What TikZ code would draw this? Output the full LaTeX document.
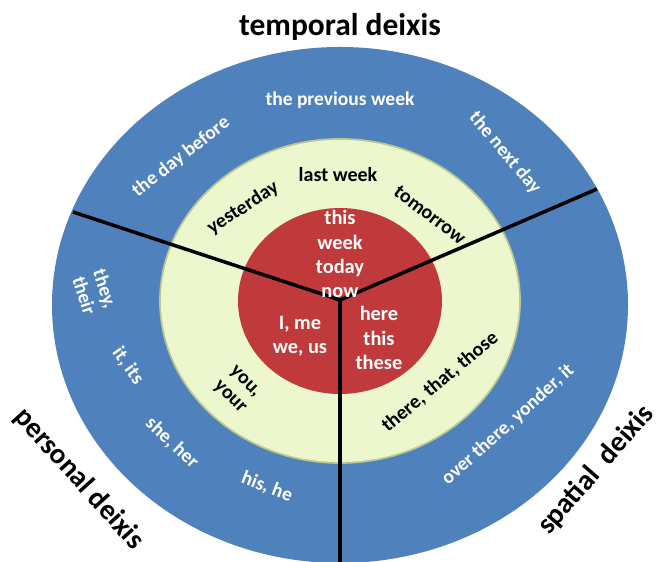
\documentclass[tikz,border=0pt]{standalone}
\usepackage{fontspec}
\setmainfont{Carlito}
\definecolor{ringblue}{HTML}{4F81BD}
\definecolor{ringgreen}{HTML}{EDF7CD}
\definecolor{ringedge}{HTML}{B9C98F}
\definecolor{corered}{HTML}{C0393B}
\tikzset{
  outerlbl/.style={text=white, font=\bfseries\fontsize{11.1}{12.5}\selectfont, align=center},
  midlbl/.style={text=black, font=\bfseries\fontsize{11.4}{12.5}\selectfont, align=center},
  corelbl/.style={text=white, font=\bfseries\fontsize{11.6}{13.7}\selectfont, align=center},
  titlelbl/.style={text=black, font=\bfseries\fontsize{17.9}{20}\selectfont},
  sidelbl/.style={text=black, font=\bfseries\fontsize{16.4}{18}\selectfont}
}
\begin{document}
\begin{tikzpicture}
        \useasboundingbox (-6.8,-5.18) rectangle (6.4,6.06);

        % Draw the three rings
        \fill[ringblue] (0,-0.04) ellipse (5.76 and 5.16);
        \filldraw[fill=ringgreen, draw=ringedge, line width=1pt] (0,0.04) ellipse (3.6 and 3.24);
        \fill[corered] (0,0.04) ellipse (2.04 and 1.86);

        % Draw the dividing lines
        \coordinate (O) at (0,0.06);
        \coordinate (P) at (-5.34,1.82); % personal / temporal
        \coordinate (S) at (5.14,2.28);  % temporal / spatial
        \coordinate (B) at (0,-5.18);    % spatial / personal
        \draw[line width=2pt] (O) -- (P);
        \draw[line width=2pt] (O) -- (S);
        \draw[line width=2pt] (O) -- (B);

        % Titles
        \node[titlelbl] (temporal) at (0,5.52) {temporal deixis};
        \node[sidelbl, rotate=-48] (personal) at (-5.22,-3.52) {personal deixis};
        \node[sidelbl, rotate=49] (spatial) at (5.12,-3.34) {spatial\ \ deixis};

        % Outer ring
        \node[outerlbl] (prevweek) at (0,4.06) {the previous week};
        \node[outerlbl, rotate=38] (daybefore) at (-3.18,2.92) {the day before};
        \node[outerlbl, rotate=-50] (nextday) at (3.3,3.0) {the next day};
        \node[outerlbl, rotate=-72] (they) at (-4.9,0.22) {they,\\their};
        \node[outerlbl, rotate=-55] (it) at (-4.24,-1.26) {it, its};
        \node[outerlbl, rotate=-43] (she) at (-3.36,-2.8) {she, her};
        \node[outerlbl, rotate=-21] (his) at (-1.46,-3.68) {his, he};
        \node[outerlbl, rotate=42] (yonder) at (3.36,-2.44) {over there, yonder, it};

        % Middle ring
        \node[midlbl] (lastweek) at (-0.04,2.56) {last week};
        \node[midlbl, rotate=33] (yesterday) at (-1.94,1.9) {yesterday};
        \node[midlbl, rotate=-37] (tomorrow) at (1.8,1.76) {tomorrow};
        \node[midlbl, rotate=-45] (you) at (-2.06,-1.74) {you,\\your};
        \node[midlbl, rotate=40] (there) at (2.0,-1.58) {there, that, those};

        % Core
        \node[corelbl] (now) at (0,0.98) {this\\week\\today\\now};
        \node[corelbl] (me) at (-0.8,-0.66) {I, me\\we, us};
        \node[corelbl] (here) at (0.78,-0.7) {here\\this\\these};
    \end{tikzpicture}
\end{document}
